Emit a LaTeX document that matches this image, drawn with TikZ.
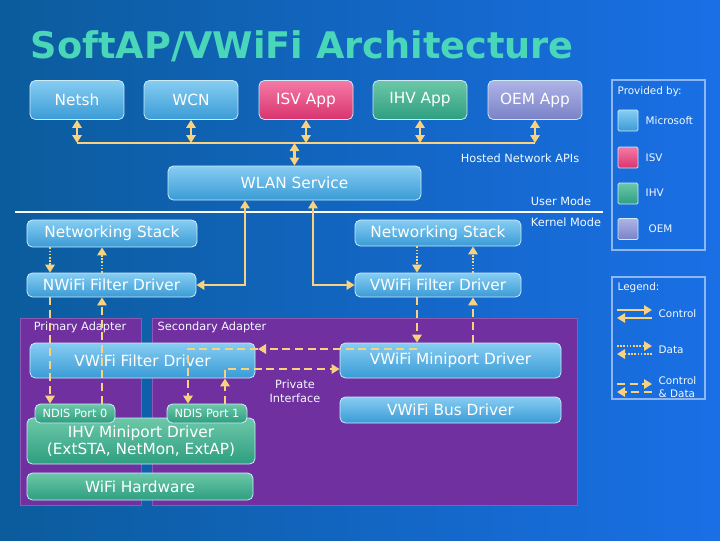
\documentclass[tikz,border=0pt]{standalone}
\usepackage{fontspec}
\setmainfont{DejaVu Sans}
\usetikzlibrary{arrows.meta}
\definecolor{bgL}{HTML}{0B5C9C}
\definecolor{bgR}{HTML}{1A6FE6}
\definecolor{gold}{HTML}{F8D27E}
\definecolor{msT}{HTML}{86CDF2}
\definecolor{msB}{HTML}{3A9BD6}
\definecolor{isT}{HTML}{F57AA5}
\definecolor{isB}{HTML}{D8346E}
\definecolor{ihT}{HTML}{6CC8A8}
\definecolor{ihB}{HTML}{2E9E80}
\definecolor{oeT}{HTML}{AEB4E6}
\definecolor{oeB}{HTML}{7A82C8}
\definecolor{purp}{HTML}{7030A0}
\definecolor{ttl}{HTML}{4AD6B8}
\begin{document}
\begin{tikzpicture}[x=0.75pt,y=-0.75pt,
  box/.style={draw=white!60!msT, line width=0.6pt, rounded corners=4pt, text=white, font=\fontsize{11.5}{13}\selectfont, inner sep=0pt},
  ms/.style={box, top color=msT, bottom color=msB},
  isv/.style={box, top color=isT, bottom color=isB},
  ihv/.style={box, top color=ihT, bottom color=ihB},
  oem/.style={box, top color=oeT, bottom color=oeB},
  lbl/.style={text=white!90!msT, font=\fontsize{8.5}{10.5}\selectfont, align=center},
  leg/.style={lbl, font=\fontsize{7.8}{9.5}\selectfont, anchor=west, align=left},
  tip/.style={-{Triangle[length=6pt,width=7pt]}},
  ctl/.style={draw=gold, line width=2.2pt},
  dat/.style={draw=gold, line width=2.2pt, dash pattern=on 1.2pt off 1.2pt},
  cd/.style={draw=gold, line width=2.2pt, dash pattern=on 6pt off 3.5pt},
  both/.style={{Triangle[length=6pt,width=7pt]}-{Triangle[length=6pt,width=7pt]}}
]
\useasboundingbox (0,0) rectangle (720,540);
\shade[left color=bgL, right color=bgR] (0,0) rectangle (720,540);

\node[text=ttl, font=\bfseries\fontsize{27.5}{30}\selectfont, anchor=west] (title) at (26,46) {SoftAP/VWiFi Architecture};

% adapters
\node[fill=purp, draw=purp!80!white, minimum width=90.75pt, minimum height=140.25pt, inner sep=0pt] (prim) at (80.5,411.5) {};
\node[fill=purp, draw=purp!80!white, minimum width=318.75pt, minimum height=140.25pt, inner sep=0pt] (sec) at (364.5,411.5) {};
\node[lbl] (plab) at (80,327) {Primary Adapter};
\node[lbl] (slab) at (212,327) {Secondary Adapter};

% apps
\node[ms, minimum width=70.5pt, minimum height=29.25pt] (netsh) at (77,100) {Netsh};
\node[ms, minimum width=70.5pt, minimum height=29.25pt] (wcn) at (191,100) {WCN};
\node[isv, minimum width=70.5pt, minimum height=29.25pt] (isv) at (306,100) {ISV App};
\node[ihv, minimum width=70.5pt, minimum height=29.25pt] (ihv) at (420,100) {IHV App};
\node[oem, minimum width=70.5pt, minimum height=29.25pt] (oem) at (535,100) {OEM App};

\node[ms, minimum width=189.75pt, minimum height=25.5pt] (wlan) at (294.5,183) {WLAN Service};
\node[ms, minimum width=127.5pt, minimum height=20.25pt] (nsL) at (112,233.5) {Networking Stack};
\node[ms, minimum width=124.5pt, minimum height=19.5pt] (nsR) at (438,233) {Networking Stack};
\node[ms, minimum width=126.75pt, minimum height=18pt] (nfL) at (111.5,285) {NWiFi Filter Driver};
\node[ms, minimum width=124.5pt, minimum height=18pt] (vfR) at (438,285) {VWiFi Filter Driver};
\node[ms, minimum width=168.75pt, minimum height=26.25pt] (vfL) at (142.5,360.5) {VWiFi Filter Driver};
\node[ihv, minimum width=171pt, minimum height=34.5pt, align=center] (ihvm) at (141,441) {IHV Miniport Driver\\(ExtSTA, NetMon, ExtAP)};
\node[ihv, minimum width=60pt, minimum height=14.25pt, font=\fontsize{8.5}{10}\selectfont] (port0) at (75,413.5) {NDIS Port 0};
\node[ihv, minimum width=60pt, minimum height=14.25pt, font=\fontsize{8.5}{10}\selectfont] (port1) at (207,413.5) {NDIS Port 1};
\node[ihv, minimum width=169.5pt, minimum height=20.25pt] (hw) at (140,486.5) {WiFi Hardware};
\node[ms, minimum width=165.75pt, minimum height=26.25pt] (vm) at (450.5,360.5) {VWiFi Miniport Driver};
\node[ms, minimum width=165.75pt, minimum height=19.5pt] (vb) at (450.5,410) {VWiFi Bus Driver};

% texts
\node[lbl] (hna) at (520,158) {Hosted Network APIs};
\node[lbl] (um) at (561,201) {User Mode};
\node[lbl] (km) at (566,222) {Kernel Mode};
\node[lbl] (pi) at (295,391) {Private\\Interface};

% mode line
\coordinate (mL) at (15,212);
\coordinate (mR) at (603,212);
\draw[white, line width=1.5pt] (mL) -- (mR);

% columns
\foreach \x in {50,102,188,225,245,258,313,417,473} {\coordinate (x\x) at (\x,0);}
\coordinate (bus) at (0,143);
\coordinate (y349) at (0,349);
\coordinate (y369) at (0,369);

% bus
\draw[ctl] (netsh.south |- bus) -- (oem.south |- bus);
\foreach \n in {netsh,wcn,isv,ihv,oem} {\draw[ctl,both] (\n.south) -- (\n.south |- bus);}
\draw[ctl,both] (wlan.north |- bus) -- (wlan.north);
\draw[ctl,both] (x245 |- wlan.south) |- (nfL.east);
\draw[ctl,both] (x313 |- wlan.south) |- (vfR.west);

% data
\draw[dat,tip] (x50 |- nsL.south) -- (x50 |- nfL.north);
\draw[dat,tip] (x102 |- nfL.north) -- (x102 |- nsL.south);
\draw[dat,tip] (x417 |- nsR.south) -- (x417 |- vfR.north);
\draw[dat,tip] (x473 |- vfR.north) -- (x473 |- nsR.south);

% control & data
\draw[cd,tip] (x50 |- nfL.south) -- (x50 |- port0.north);
\draw[cd,tip] (x102 |- port0.north) -- (x102 |- nfL.south);
\draw[cd,tip] (x417 |- vfR.south) -- (x417 |- vm.north);
\draw[cd,tip] (x473 |- vm.north) -- (x473 |- vfR.south);
\draw[cd,tip] (x417 |- y349) -- (x258 |- y349);
\draw[cd,tip] (x258 |- y349) -| (x188 |- port1.north);
\draw[cd,tip] (x225 |- port1.north) -- (x225 |- vfL.south);
\draw[cd,tip] (x225 |- vfL.south) |- (vm.west |- y369);

% provided-by legend
\node[draw=white!50!bgR, line width=1.5pt, minimum width=69.75pt, minimum height=127.5pt, inner sep=0pt] (pbox) at (658.5,165) {};
\node[leg] (pb) at (613,92) {Provided by:};
\node[ms, rounded corners=1pt, minimum width=15pt, minimum height=15.75pt] (sw1) at (628,120.5) {};
\node[isv, rounded corners=1pt, minimum width=15pt, minimum height=15.75pt] (sw2) at (628,157.5) {};
\node[ihv, rounded corners=1pt, minimum width=15pt, minimum height=15.75pt] (sw3) at (628,193.5) {};
\node[oem, rounded corners=1pt, minimum width=15pt, minimum height=15.75pt] (sw4) at (628,229) {};
\node[leg] (l1) at (641,121) {Microsoft};
\node[leg] (l2) at (641,158) {ISV};
\node[leg] (l3) at (641,193) {IHV};
\node[leg] (l4) at (644,229) {OEM};

% legend
\node[draw=white!50!bgR, line width=1.5pt, minimum width=69.75pt, minimum height=91.5pt, inner sep=0pt] (lbox) at (658.5,338) {};
\node[leg] (lg) at (613,288) {Legend:};
\coordinate (a1) at (617,310); \coordinate (a2) at (652,310);
\coordinate (a3) at (652,318); \coordinate (a4) at (617,318);
\draw[ctl,tip] (a1) -- (a2); \draw[ctl,tip] (a3) -- (a4);
\node[leg] (lc) at (654,314) {Control};
\coordinate (b1) at (617,346); \coordinate (b2) at (652,346);
\coordinate (b3) at (652,354); \coordinate (b4) at (617,354);
\draw[dat,tip] (b1) -- (b2); \draw[dat,tip] (b3) -- (b4);
\node[leg] (ld) at (654,350) {Data};
\coordinate (c1) at (617,384); \coordinate (c2) at (652,384);
\coordinate (c3) at (652,392); \coordinate (c4) at (617,392);
\draw[cd,tip] (c1) -- (c2); \draw[cd,tip] (c3) -- (c4);
\node[leg] (lcd) at (654,387) {Control\\\& Data};
\end{tikzpicture}
\end{document}
